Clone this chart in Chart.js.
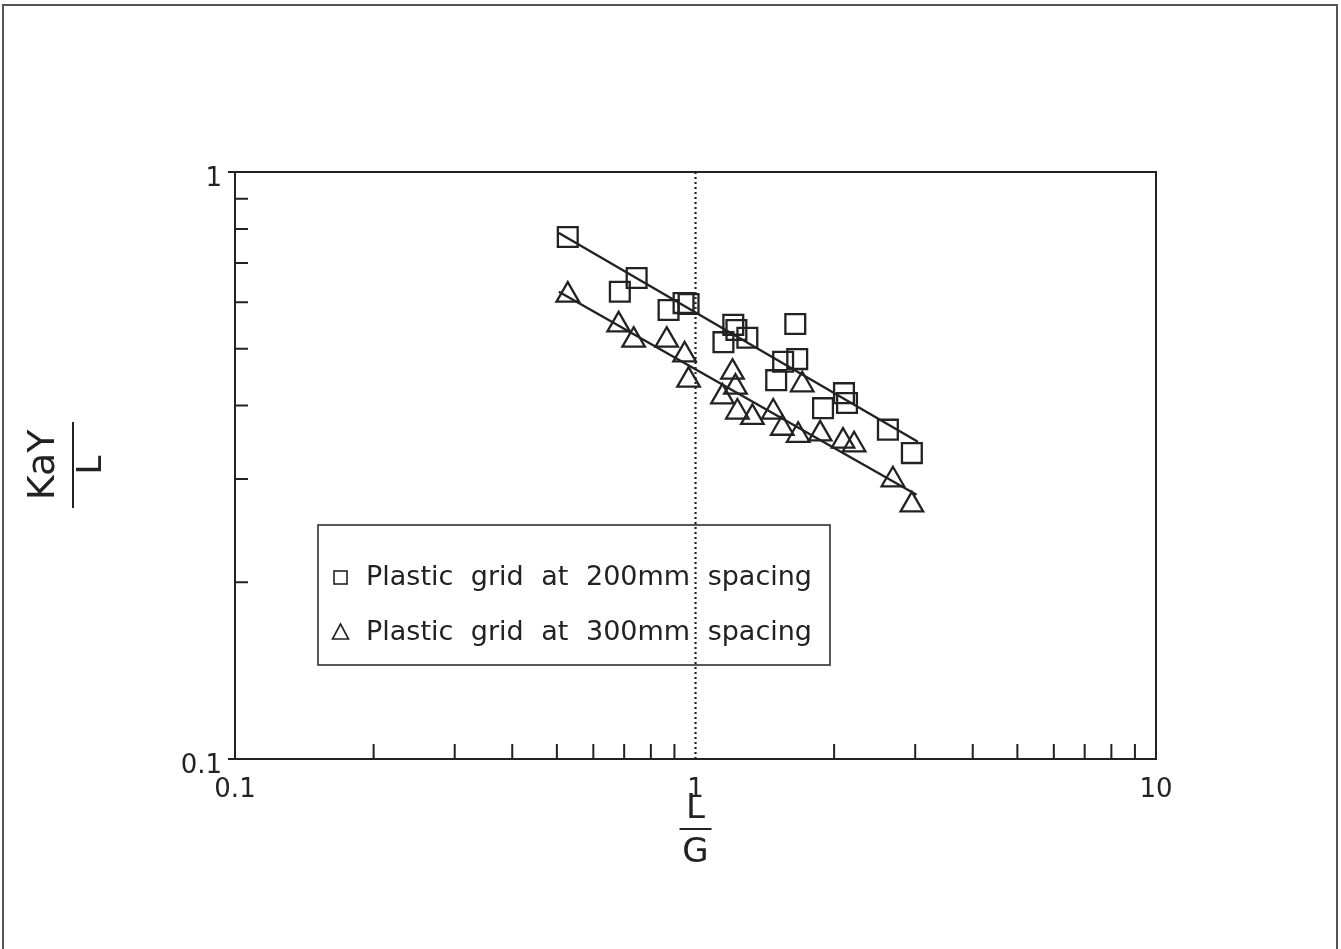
<!DOCTYPE html>
<html><head><meta charset="utf-8">
<script src="https://cdn.jsdelivr.net/npm/chart.js@4/dist/chart.umd.min.js"></script>
<style>html,body{margin:0;padding:0;background:#fff;overflow:hidden}</style>
</head><body>
<canvas id="c" width="1341" height="949"></canvas>
<script>
// ---- data ----
const series200Name = 'Plastic grid at 200mm spacing';
const series300Name = 'Plastic grid at 300mm spacing';
const x200 = [0.528, 0.685, 0.745, 0.874, 0.942, 0.966, 1.208, 1.227, 1.150, 1.296, 1.647, 1.550, 1.663, 1.497, 2.101, 2.133, 1.892, 2.617, 2.950];
const y200 = [0.775, 0.625, 0.660, 0.582, 0.598, 0.596, 0.549, 0.538, 0.513, 0.522, 0.551, 0.475, 0.480, 0.442, 0.420, 0.404, 0.396, 0.364, 0.332];
const x300 = [0.528, 0.681, 0.734, 0.866, 0.947, 0.966, 1.203, 1.221, 1.144, 1.233, 1.329, 1.475, 1.543, 1.671, 1.705, 1.865, 2.091, 2.210, 2.683, 2.950];
const y300 = [0.617, 0.549, 0.517, 0.517, 0.488, 0.442, 0.456, 0.430, 0.414, 0.390, 0.382, 0.390, 0.366, 0.356, 0.434, 0.358, 0.348, 0.343, 0.299, 0.271];
const fitX200 = [0.505, 3.04];
const fitY200 = [0.787, 0.347];
const fitX300 = [0.505, 3.02];
const fitY300 = [0.625, 0.282];
const refLineX = [1, 1];
const refLineY = [0.1, 1];
const xMajorTicks = [0.1, 1, 10];
const yMajorTicks = [0.1, 1];
const xMinorTicks = [0.2, 0.3, 0.4, 0.5, 0.6, 0.7, 0.8, 0.9, 2, 3, 4, 5, 6, 7, 8, 9];
const yMinorTicks = [0.2, 0.3, 0.4, 0.5, 0.6, 0.7, 0.8, 0.9];
const xTitleTop = 'L', xTitleBottom = 'G';
const yTitleTop = 'KaY', yTitleBottom = 'L';

const INK = '#222';
const FONT = '"DejaVu Sans", "Liberation Sans", sans-serif';
const pts = (xs, ys) => xs.map((x, i) => ({x: x, y: ys[i]}));

function fitText(ctx, text, x, y, targetW) {
  ctx.wordSpacing = '0px';
  const w = ctx.measureText(text).width;
  const spaces = (text.match(/ /g) || []).length;
  if (spaces > 0 && targetW > w) ctx.wordSpacing = ((targetW - w) / spaces).toFixed(2) + 'px';
  ctx.fillText(text, x, y);
  ctx.wordSpacing = '0px';
}

const decorPlugin = {
  id: 'decor',
  beforeDraw(chart) {
    const ctx = chart.ctx;
    ctx.save();
    ctx.fillStyle = '#fff';
    ctx.fillRect(0, 0, chart.width, chart.height);
    ctx.strokeStyle = '#555';
    ctx.lineWidth = 2;
    ctx.beginPath();
    ctx.moveTo(3, 960); ctx.lineTo(3, 5); ctx.lineTo(1337, 5); ctx.lineTo(1337, 960);
    ctx.stroke();
    ctx.restore();
  },
  afterDatasetsDraw(chart) {
    const ctx = chart.ctx;
    const a = chart.chartArea;
    const xs = chart.scales.x, ys = chart.scales.y;
    ctx.save();
    ctx.strokeStyle = INK;
    ctx.lineWidth = 2;
    // top and right frame
    ctx.beginPath();
    ctx.moveTo(a.left - 7, a.top); ctx.lineTo(a.right, a.top); ctx.lineTo(a.right, a.bottom);
    ctx.moveTo(a.left - 7, a.bottom); ctx.lineTo(a.left, a.bottom);
    ctx.stroke();
    // minor ticks (inward)
    ctx.beginPath();
    xMinorTicks.forEach(v => { const p = xs.getPixelForValue(v); ctx.moveTo(p, a.bottom); ctx.lineTo(p, a.bottom - 15); });
    yMinorTicks.forEach(v => { const p = ys.getPixelForValue(v); ctx.moveTo(a.left, p); ctx.lineTo(a.left + 13, p); });
    ctx.stroke();

    // legend box
    const lx = xs.getPixelForValue(0.1) + 83, ly = ys.getPixelForValue(1) + 353;
    ctx.lineWidth = 1.5;
    ctx.strokeRect(lx, ly, 512, 140);
    ctx.font = '27px ' + FONT;
    ctx.fillStyle = INK;
    ctx.textBaseline = 'middle';
    ctx.textAlign = 'left';
    ctx.lineWidth = 1.6;
    // square
    ctx.strokeRect(lx + 16, ly + 46, 13, 13);
    fitText(ctx, series200Name, lx + 48, ly + 53, 446);
    // triangle
    ctx.beginPath();
    ctx.moveTo(lx + 22.5, ly + 99); ctx.lineTo(lx + 30.5, ly + 114); ctx.lineTo(lx + 14.5, ly + 114); ctx.closePath();
    ctx.stroke();
    fitText(ctx, series300Name, lx + 48, ly + 108, 446);

    // x title (fraction)
    ctx.font = '34px ' + FONT;
    ctx.textAlign = 'center';
    const xc = xs.getPixelForValue(1);
    ctx.fillText(xTitleTop, xc, 809);
    ctx.fillText(xTitleBottom, xc, 853);
    ctx.lineWidth = 2;
    ctx.beginPath(); ctx.moveTo(xc - 16, 829); ctx.lineTo(xc + 16, 829); ctx.stroke();

    // y title (fraction, rotated)
    const yc = 465;
    ctx.save();
    ctx.translate(0, yc);
    ctx.rotate(-Math.PI / 2);
    ctx.font = '38px ' + FONT;
    ctx.fillText(yTitleTop, 0, 44);
    ctx.font = '34px ' + FONT;
    ctx.fillText(yTitleBottom, 0, 92);
    ctx.beginPath(); ctx.moveTo(-43, 73); ctx.lineTo(43, 73); ctx.stroke();
    ctx.restore();
    ctx.restore();
  }
};

new Chart(document.getElementById('c'), {
  type: 'scatter',
  data: {
    datasets: [
      { label: series200Name, data: pts(x200, y200), pointStyle: 'rect', pointRadius: 14, pointBorderWidth: 2.3,
        borderColor: INK, backgroundColor: 'rgba(0,0,0,0)', showLine: false, order: 1 },
      { label: series300Name, data: pts(x300, y300), pointStyle: 'triangle', pointRadius: 13, pointBorderWidth: 2.3,
        borderColor: INK, backgroundColor: 'rgba(0,0,0,0)', showLine: false, order: 1 },
      { label: 'fit200', data: pts(fitX200, fitY200), showLine: true, pointRadius: 0, borderColor: INK, borderWidth: 2.4, order: 2 },
      { label: 'fit300', data: pts(fitX300, fitY300), showLine: true, pointRadius: 0, borderColor: INK, borderWidth: 2.4, order: 2 },
      { label: 'ref', data: pts(refLineX, refLineY), showLine: true, pointRadius: 0, borderColor: INK, borderWidth: 2.2, borderDash: [2, 3], order: 3 }
    ]
  },
  options: {
    responsive: false,
    animation: false,
    devicePixelRatio: 1,
    layout: { padding: { top: 172, right: 185, left: 0, bottom: 0 } },
    plugins: { legend: { display: false }, tooltip: { enabled: false } },
    scales: {
      x: {
        type: 'logarithmic', min: 0.1, max: 10, position: 'bottom',
        afterBuildTicks: s => { s.ticks = xMajorTicks.map(v => ({ value: v })); },
        afterFit: s => { s.height = 190; },
        ticks: { callback: v => String(v), font: { family: FONT, size: 26 }, color: INK, padding: 16, maxRotation: 0, autoSkip: false },
        grid: { drawOnChartArea: false, drawTicks: false },
        border: { display: true, color: INK, width: 2 }
      },
      y: {
        type: 'logarithmic', min: 0.1, max: 1,
        afterBuildTicks: s => { s.ticks = yMajorTicks.map(v => ({ value: v })); },
        afterFit: s => { s.width = 235; },
        ticks: { callback: v => String(v), font: { family: FONT, size: 26 }, color: INK, padding: 13, labelOffset: 7, autoSkip: false },
        grid: { drawOnChartArea: false, drawTicks: false },
        border: { display: true, color: INK, width: 2 }
      }
    }
  },
  plugins: [decorPlugin]
});
</script>
</body></html>
